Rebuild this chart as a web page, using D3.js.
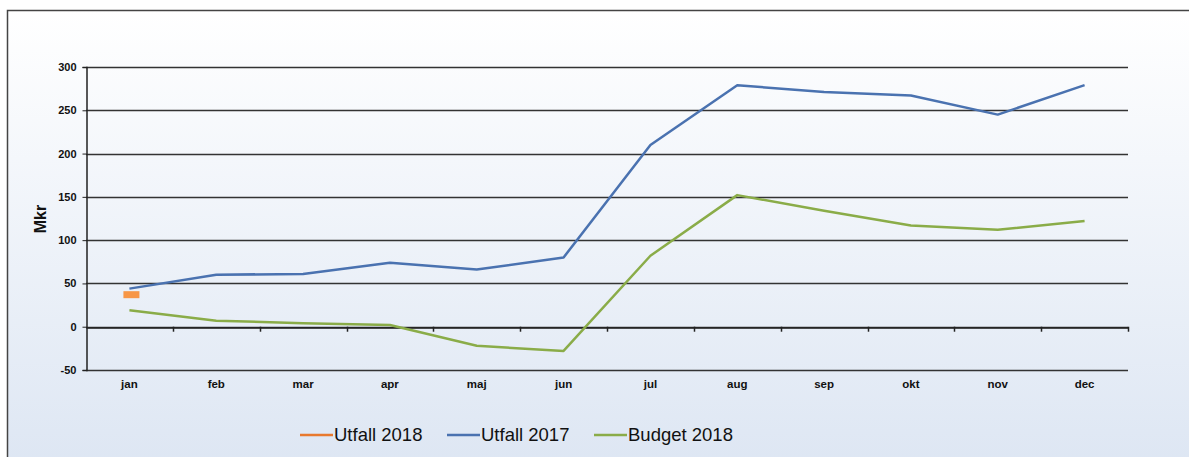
<!DOCTYPE html>
<html><head><meta charset="utf-8">
<script src="https://cdn.jsdelivr.net/npm/d3@7"></script>
<style>body{margin:0;background:#fff;}svg{display:block;}</style>
</head><body>
<svg id="c" width="1189" height="457"></svg>
<script>
const months = ["jan","feb","mar","apr","maj","jun","jul","aug","sep","okt","nov","dec"];
const utfall2018 = [37];
const utfall2017 = [44,60,61,74,66,80,210,279,271,267,245,279];
const budget2018 = [19,7,4,2,-22,-28,82,152,134,117,112,122];
const yTicks = [-50,0,50,100,150,200,250,300];
const seriesNames = ["Utfall 2018","Utfall 2017","Budget 2018"];
const colors = ["#e8792e","#4a72b0","#8aac48"];
const FONT = "Arial, 'Liberation Sans', sans-serif";

const svg = d3.select("#c");
const defs = svg.append("defs");
const g = defs.append("linearGradient").attr("id","bg").attr("x1",0).attr("y1",0).attr("x2",0).attr("y2",1);
g.append("stop").attr("offset","0%").attr("stop-color","#ffffff");
g.append("stop").attr("offset","100%").attr("stop-color","#dde6f3");
svg.append("rect").attr("x",7.5).attr("y",10.5).attr("width",1200).attr("height",460)
  .attr("fill","url(#bg)").attr("stroke","#444").attr("stroke-width",1.5);

const L=86, R=1128, T=67, B=370;
const x = d3.scaleBand().domain(months).range([L,R]);
const y = d3.scaleLinear().domain([-50,300]).range([B,T]);

// gridlines
svg.append("g").selectAll("line").data(yTicks).join("line")
  .attr("x1",L).attr("x2",R).attr("y1",d=>Math.round(y(d))+0.5).attr("y2",d=>Math.round(y(d))+0.5)
  .attr("stroke","#333").attr("stroke-width",1.3);

// y axis
const ya = svg.append("g").attr("transform",`translate(${L+0.5},0)`)
  .call(d3.axisLeft(y).tickValues(yTicks).tickSize(4).tickPadding(6).tickFormat(d=>String(d)));
ya.select(".domain").attr("stroke","#222").attr("stroke-width",1.5);
ya.selectAll("line").attr("stroke","#222");
ya.selectAll("text").attr("font-family",FONT).attr("font-size",11).attr("font-weight","bold").attr("fill","#111");

// x axis on zero line
const xa = svg.append("g").attr("transform",`translate(0,${Math.round(y(0))+0.5})`)
  .call(d3.axisBottom(x).tickSize(0).tickFormat(""));
xa.select(".domain").attr("stroke","#222").attr("stroke-width",1.3);
const bounds = months.map((m,i)=>x(m)).concat([R]).slice(1);
svg.append("g").selectAll("line").data(bounds).join("line")
  .attr("x1",d=>Math.round(d)+0.5).attr("x2",d=>Math.round(d)+0.5)
  .attr("y1",y(0)).attr("y2",y(0)+5).attr("stroke","#222").attr("stroke-width",1.5);

// x labels
svg.append("g").selectAll("text").data(months).join("text")
  .attr("x",d=>x(d)+x.bandwidth()/2).attr("y",388)
  .attr("text-anchor","middle").attr("font-family",FONT)
  .attr("font-size",11.5).attr("font-weight","bold").attr("fill","#111").text(d=>d);

// y title
svg.append("text").attr("transform","translate(46,219) rotate(-90)").attr("text-anchor","middle")
  .attr("font-family",FONT).attr("font-size",16).attr("font-weight","bold").attr("fill","#111").text("Mkr");

const line = d3.line().x((d,i)=>x(months[i])+x.bandwidth()/2).y(d=>y(d));
[[utfall2017,1],[budget2018,2]].forEach(([data,ci])=>{
  svg.append("path").datum(data).attr("d",line).attr("fill","none")
    .attr("stroke",colors[ci]).attr("stroke-width",2.5).attr("stroke-linejoin","round");
});
// Utfall 2018 single point marker
svg.append("g").selectAll("rect").data(utfall2018).join("rect")
  .attr("x",(d,i)=>x(months[i])+x.bandwidth()/2-6).attr("y",d=>y(d)-3.5)
  .attr("width",16).attr("height",7).attr("fill","#f79646");

// legend
const legX = [300,447,594];
const lg = svg.append("g");
seriesNames.forEach((n,i)=>{
  lg.append("line").attr("x1",legX[i]).attr("x2",legX[i]+33).attr("y1",435).attr("y2",435)
    .attr("stroke",colors[i]).attr("stroke-width",2.5);
  lg.append("text").attr("x",legX[i]+34).attr("y",441).attr("font-family",FONT)
    .attr("font-size",18.5).attr("fill","#111").text(n);
});
</script>
</body></html>
